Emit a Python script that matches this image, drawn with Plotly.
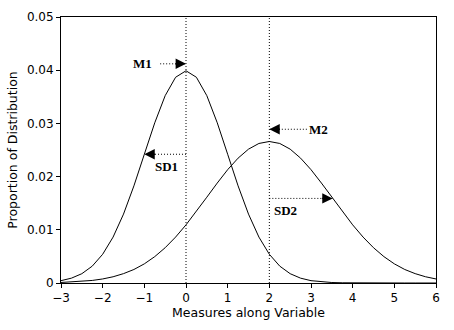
import plotly.graph_objects as go

x_vals = [-3, -2.75, -2.5, -2.25, -2, -1.75, -1.5, -1.25, -1, -0.75, -0.5, -0.25, 0,
          0.25, 0.5, 0.75, 1, 1.25, 1.5, 1.75, 2, 2.25, 2.5, 2.75, 3, 3.25, 3.5, 3.75,
          4, 4.25, 4.5, 4.75, 5, 5.25, 5.5, 5.75, 6]

dist1 = [0.00044, 0.00091, 0.00175, 0.00317, 0.0054, 0.00863, 0.01295, 0.01826, 0.0242,
         0.03011, 0.03521, 0.03867, 0.03989, 0.03867, 0.03521, 0.03011, 0.0242, 0.01826,
         0.01295, 0.00863, 0.0054, 0.00317, 0.00175, 0.00091, 0.00044, 0.0002, 0.00009,
         0.00004, 0.00001, 0.0, 0.0, 0.0, 0.0, 0.0, 0.0, 0.0, 0.0]

dist2 = [0.0001, 0.00018, 0.0003, 0.00048, 0.00076, 0.00117, 0.00176, 0.00254, 0.0036,
         0.00496, 0.00663, 0.00863, 0.01093, 0.01346, 0.01613, 0.01879, 0.0213, 0.02347,
         0.02516, 0.02623, 0.0266, 0.02623, 0.02516, 0.02347, 0.0213, 0.01879, 0.01613,
         0.01346, 0.01093, 0.00863, 0.00663, 0.00496, 0.0036, 0.00254, 0.00176, 0.00117,
         0.00076]

means = [0, 2]
x_ticks = [-3, -2, -1, 0, 1, 2, 3, 4, 5, 6]
y_ticks = [0, 0.01, 0.02, 0.03, 0.04, 0.05]

# labels: (text, text_x, text_y, tail_x, tip_x, arrow_y, direction)
labels = [
    ("M1", -1.05, 0.0412, -0.62, 0.0, 0.0412, "right"),
    ("M2", 3.18, 0.0289, 2.9, 2.0, 0.0289, "left"),
    ("SD1", -0.48, 0.0219, 0.0, -1.0, 0.0242, "left"),
    ("SD2", 2.38, 0.0137, 2.0, 3.52, 0.0159, "right"),
]

fig = go.Figure()
fig.add_trace(go.Scatter(x=x_vals, y=dist1, mode="lines",
                         line=dict(color="black", width=1), showlegend=False))
fig.add_trace(go.Scatter(x=x_vals, y=dist2, mode="lines",
                         line=dict(color="black", width=1), showlegend=False))

for m in means:
    fig.add_shape(type="line", x0=m, x1=m, y0=0, y1=0.05, xref="x", yref="y",
                  line=dict(color="black", width=1, dash="1px,2px"))

for text, tx, ty, tail, tip, ay, d in labels:
    fig.add_shape(type="line", x0=tail, x1=tip, y0=ay, y1=ay, xref="x", yref="y",
                  line=dict(color="black", width=1, dash="1px,2px"))
    fig.add_annotation(x=tip, y=ay, ax=(-12 if d == "right" else 12), ay=0,
                       xref="x", yref="y", text="", showarrow=True,
                       arrowhead=2, arrowsize=1.6, arrowwidth=1.3, arrowcolor="black")
    fig.add_annotation(x=tx, y=ty, text="<b>" + text + "</b>", showarrow=False,
                       xref="x", yref="y",
                       font=dict(family="Liberation Serif", size=13, color="black"))

axis_common = dict(showline=True, linecolor="black", linewidth=1, mirror=True,
                   ticks="outside", ticklen=4, tickcolor="black", showgrid=False,
                   zeroline=False,
                   tickfont=dict(family="DejaVu Sans", size=12, color="black"))

fig.update_xaxes(range=[-3, 6], tickvals=x_ticks, title=dict(
    text="Measures along Variable", standoff=3,
    font=dict(family="DejaVu Sans", size=12.5, color="black")), **axis_common)
fig.update_yaxes(range=[0, 0.05], tickvals=y_ticks, title=dict(
    text="Proportion of Distribution", standoff=6,
    font=dict(family="DejaVu Sans", size=12.5, color="black")), **axis_common)

fig.update_layout(width=454, height=330, margin=dict(l=61, r=18, t=10, b=47),
                  plot_bgcolor="white", paper_bgcolor="white")

fig.write_html("out.html")
